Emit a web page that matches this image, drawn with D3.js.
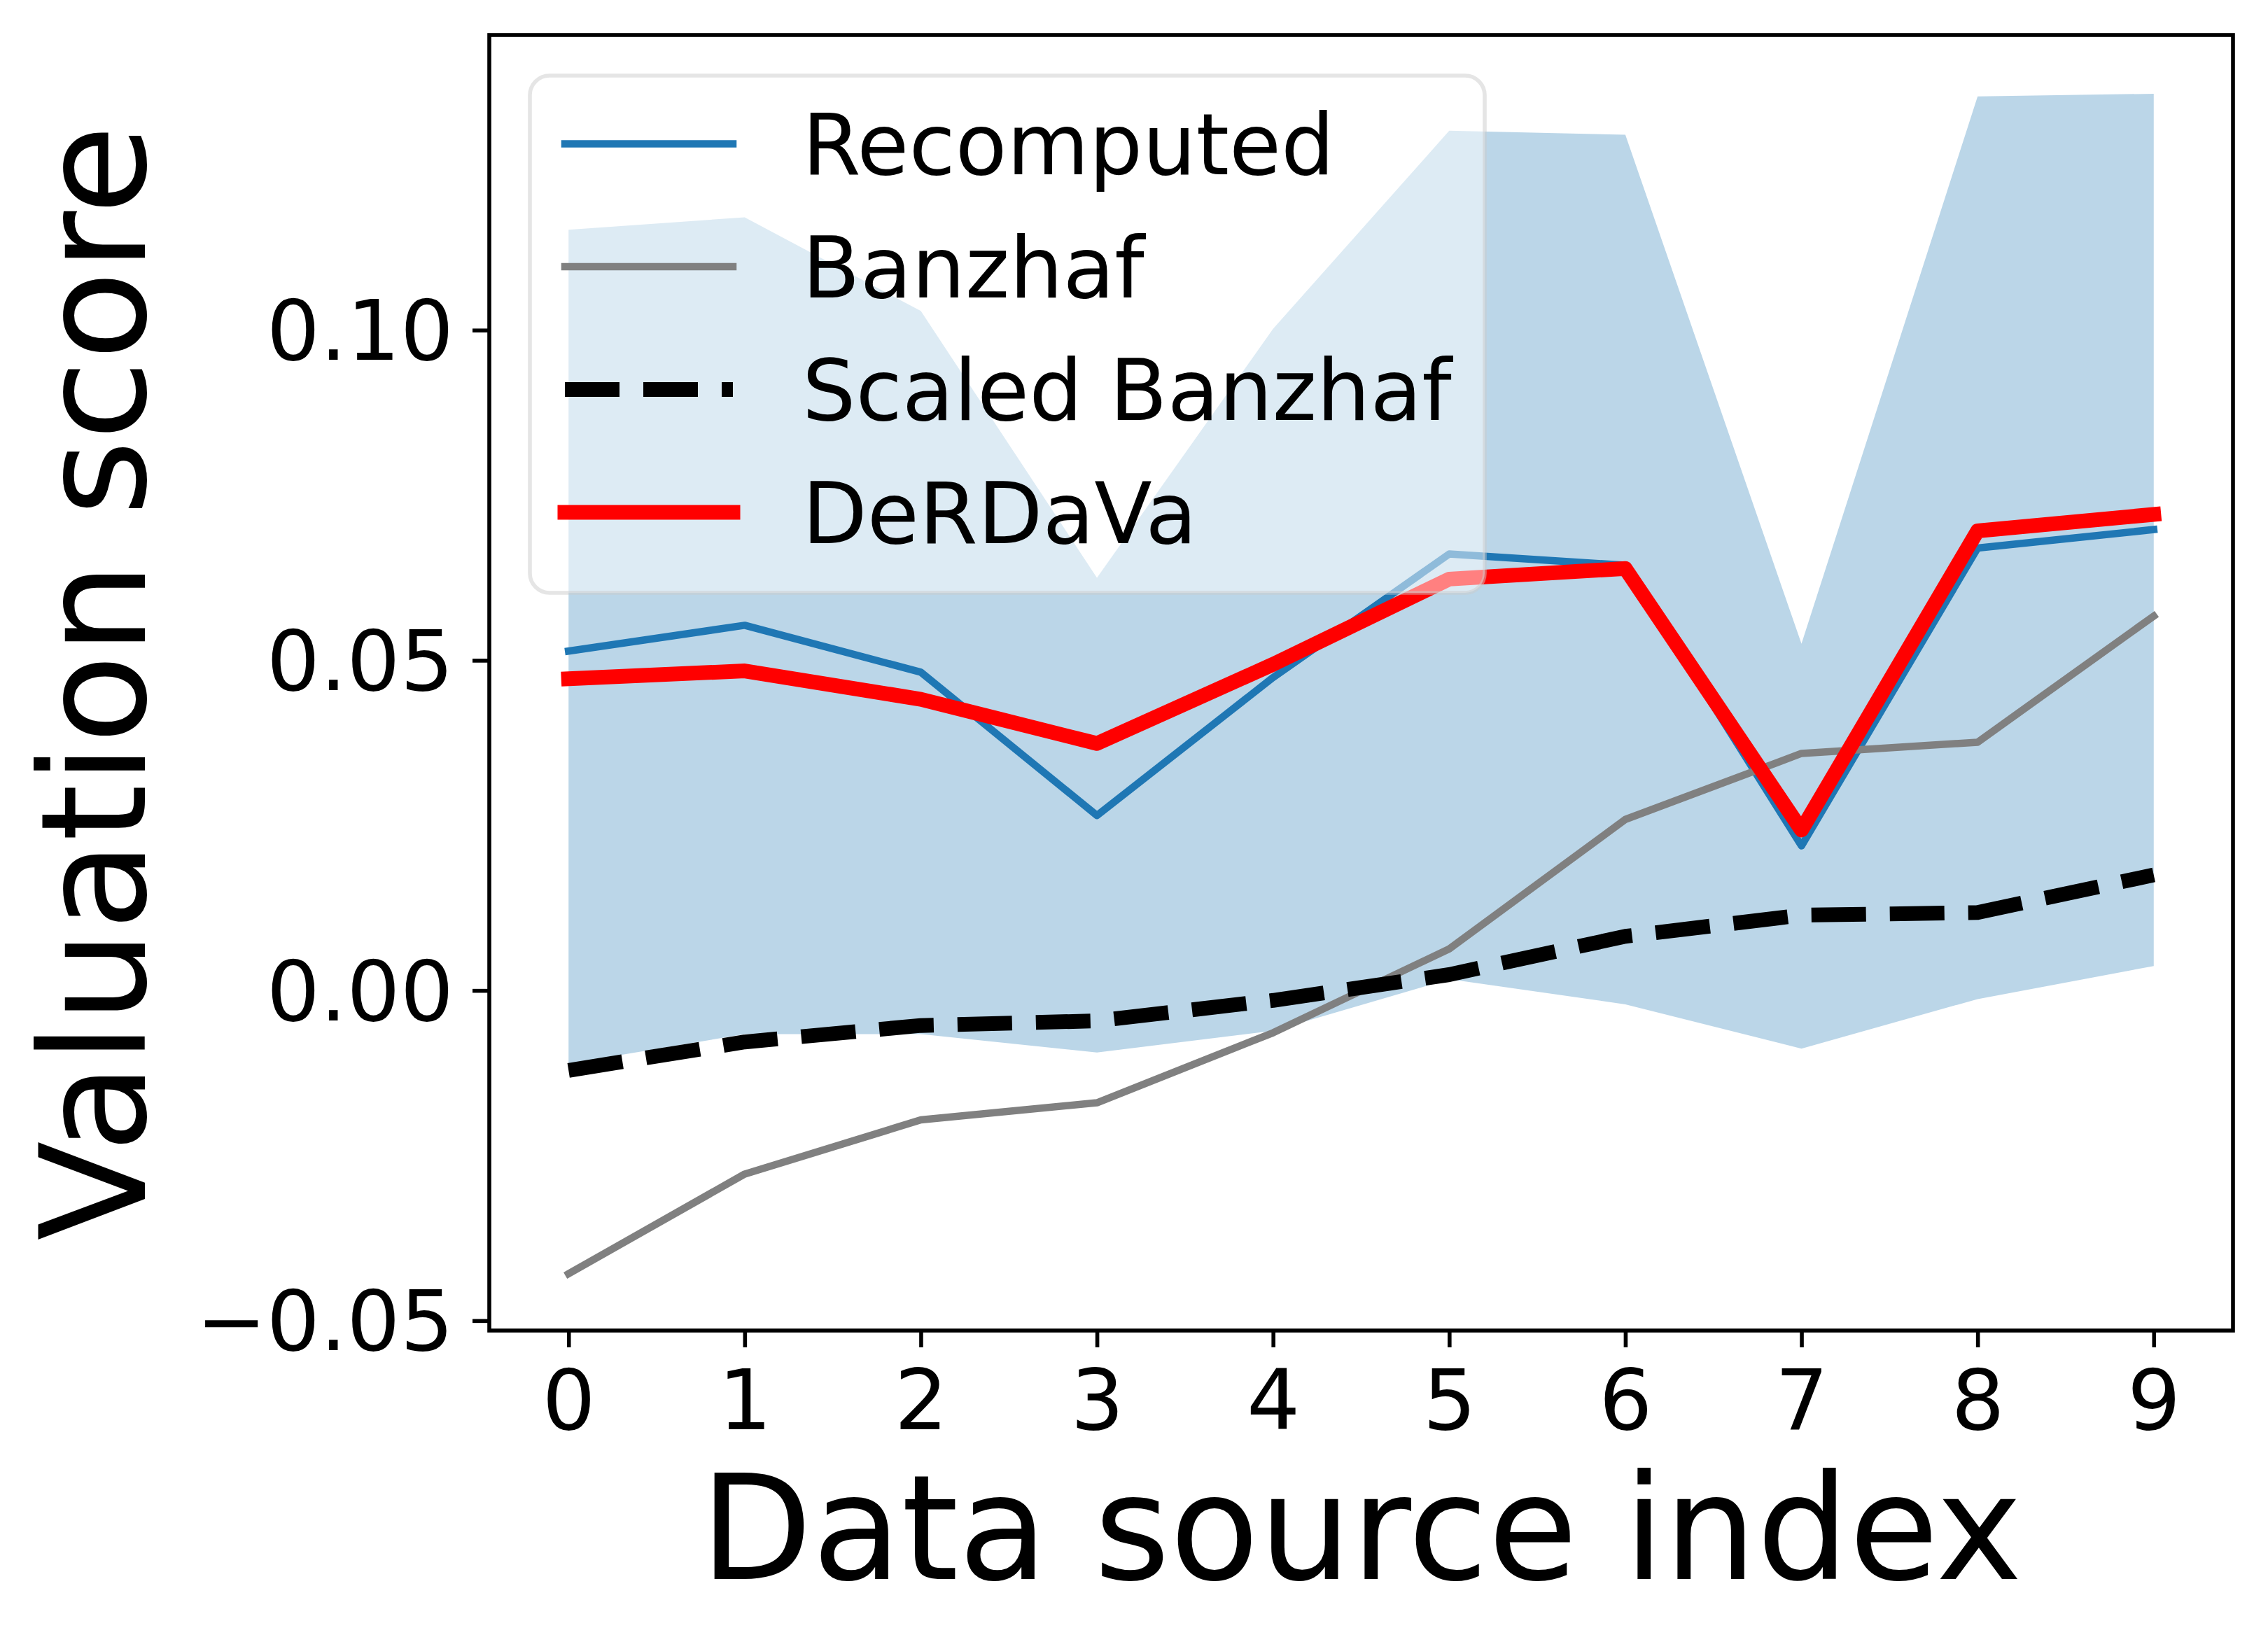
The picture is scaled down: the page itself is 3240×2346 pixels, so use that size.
<!DOCTYPE html>
<html>
<head>
<meta charset="utf-8">
<script src="https://cdn.jsdelivr.net/npm/d3@7"></script>
<style>
  body { margin: 0; background: #ffffff; }
  svg { display: block; font-family: "DejaVu Sans", sans-serif; }
</style>
</head>
<body>
<div id="chart"></div>
<script>
// Data source index 0..9
const sourceIndex = [0, 1, 2, 3, 4, 5, 6, 7, 8, 9];

// Series values
const recomputed    = [0.0514, 0.0553, 0.0482, 0.0265, 0.0474, 0.0661, 0.0644, 0.0219, 0.0670, 0.0698];
const derdava       = [0.0472, 0.0484, 0.0441, 0.0374, 0.0494, 0.0623, 0.0639, 0.0243, 0.0696, 0.0721];
const banzhaf       = [-0.0429, -0.0278, -0.0196, -0.0170, -0.0064, 0.0063, 0.0259, 0.0359, 0.0376, 0.0567];
const scaledBanzhaf = [-0.0121, -0.0078, -0.0053, -0.0046, -0.0015, 0.0024, 0.0082, 0.0114, 0.0118, 0.0175];

// Spread band around the recomputed values
const bandUpper = [0.1152, 0.1171, 0.1029, 0.0625, 0.1002, 0.1302, 0.1296, 0.0525, 0.1354, 0.1358];
const bandLower = [-0.0111, -0.0066, -0.0066, -0.0094, -0.0061, 0.0017, -0.0021, -0.0088, -0.0013, 0.0037];

// Tick labels
const yTicks = [-0.05, 0.00, 0.05, 0.10];
const xTicks = sourceIndex;

// Legend entries
const legendLabels = ["Recomputed", "Banzhaf", "Scaled Banzhaf", "DeRDaVa"];

// Layout (pixels)
const W = 3240, H = 2346;
const plot = {left: 699, top: 50, right: 3190, bottom: 1901};

const colors = {
    recomputed: "#1f77b4",
    banzhaf: "#808080",
    scaled: "#000000",
    derdava: "#ff0000",
    band: "#1f77b4"
};

const svg = d3.select("#chart")
    .append("svg")
    .attr("width", W)
    .attr("height", H);

svg.append("rect")
    .attr("width", W)
    .attr("height", H)
    .attr("fill", "#ffffff");

// Scales
const x = d3.scaleLinear()
    .domain([-0.45, 9.45])
    .range([plot.left, plot.right]);

const y = d3.scaleLinear()
    .domain([-0.0515, 0.1447])
    .range([plot.bottom, plot.top]);

svg.append("clipPath")
    .attr("id", "plot-clip")
    .append("rect")
    .attr("x", plot.left)
    .attr("y", plot.top)
    .attr("width", plot.right - plot.left)
    .attr("height", plot.bottom - plot.top);

const g = svg.append("g").attr("clip-path", "url(#plot-clip)");

// Band
const band = d3.area()
    .x((d, i) => x(sourceIndex[i]))
    .y0((d, i) => y(bandLower[i]))
    .y1(d => y(d));

g.append("path")
    .datum(bandUpper)
    .attr("d", band)
    .attr("fill", colors.band)
    .attr("fill-opacity", 0.3);

// Lines
const line = d3.line()
    .x((d, i) => x(sourceIndex[i]))
    .y(d => y(d));

const series = [
    {values: recomputed, color: colors.recomputed, width: 10.5, dash: null},
    {values: banzhaf, color: colors.banzhaf, width: 10.5, dash: null},
    {values: scaledBanzhaf, color: colors.scaled, width: 21, dash: "78,34"},
    {values: derdava, color: colors.derdava, width: 21, dash: null}
];

series.forEach(s => {
    g.append("path")
        .datum(s.values)
        .attr("d", line)
        .attr("fill", "none")
        .attr("stroke", s.color)
        .attr("stroke-width", s.width)
        .attr("stroke-linejoin", "round")
        .attr("stroke-linecap", s.dash ? "butt" : "square")
        .attr("stroke-dasharray", s.dash);
});

// Axes
const xAxis = d3.axisBottom(x)
    .tickValues(xTicks)
    .tickFormat(d3.format("d"))
    .tickSize(24)
    .tickPadding(32);

const xg = svg.append("g")
    .attr("transform", `translate(0,${plot.bottom})`)
    .call(xAxis);

const yAxis = d3.axisLeft(y)
    .tickValues(yTicks)
    .tickFormat(d3.format(".2f"))
    .tickSize(24)
    .tickPadding(27);

const yg = svg.append("g")
    .attr("transform", `translate(${plot.left},0)`)
    .call(yAxis);

yg.selectAll("text").attr("dy", "0.35em");

[xg, yg].forEach(a => {
    a.select(".domain").remove();
    a.selectAll(".tick line").attr("stroke", "#000").attr("stroke-width", 5.6);
    a.selectAll(".tick text")
        .attr("fill", "#000")
        .style("font-family", "DejaVu Sans")
        .style("font-size", "120px");
});

// Spines
svg.append("rect")
    .attr("x", plot.left)
    .attr("y", plot.top)
    .attr("width", plot.right - plot.left)
    .attr("height", plot.bottom - plot.top)
    .attr("fill", "none")
    .attr("stroke", "#000")
    .attr("stroke-width", 5.6);

// Axis labels
svg.append("text")
    .attr("x", (plot.left + plot.right) / 2)
    .attr("y", 2256)
    .attr("text-anchor", "middle")
    .style("font-size", "208px")
    .text("Data source index");

svg.append("text")
    .attr("transform", `translate(207,${(plot.top + plot.bottom) / 2}) rotate(-90)`)
    .attr("text-anchor", "middle")
    .style("font-size", "208px")
    .text("Valuation score");

// Legend
const legend = svg.append("g");

legend.append("rect")
    .attr("x", 757)
    .attr("y", 108)
    .attr("width", 1364)
    .attr("height", 739)
    .attr("rx", 28)
    .attr("ry", 28)
    .attr("fill", "#ffffff")
    .attr("fill-opacity", 0.5)
    .attr("stroke", "#cccccc")
    .attr("stroke-opacity", 0.5)
    .attr("stroke-width", 5.6);

const rowY0 = 205.5, rowStep = 175.5;

legendLabels.forEach((label, i) => {
    const s = series[i];
    const ly = rowY0 + i * rowStep;
    legend.append("line")
        .attr("x1", 807)
        .attr("x2", 1047)
        .attr("y1", ly)
        .attr("y2", ly)
        .attr("stroke", s.color)
        .attr("stroke-width", s.width)
        .attr("stroke-linecap", s.dash ? "butt" : "square")
        .attr("stroke-dasharray", s.dash);
    legend.append("text")
        .attr("x", 1146)
        .attr("y", ly + 43.5)
        .style("font-size", "120.5px")
        .text(label);
});
</script>
</body>
</html>
